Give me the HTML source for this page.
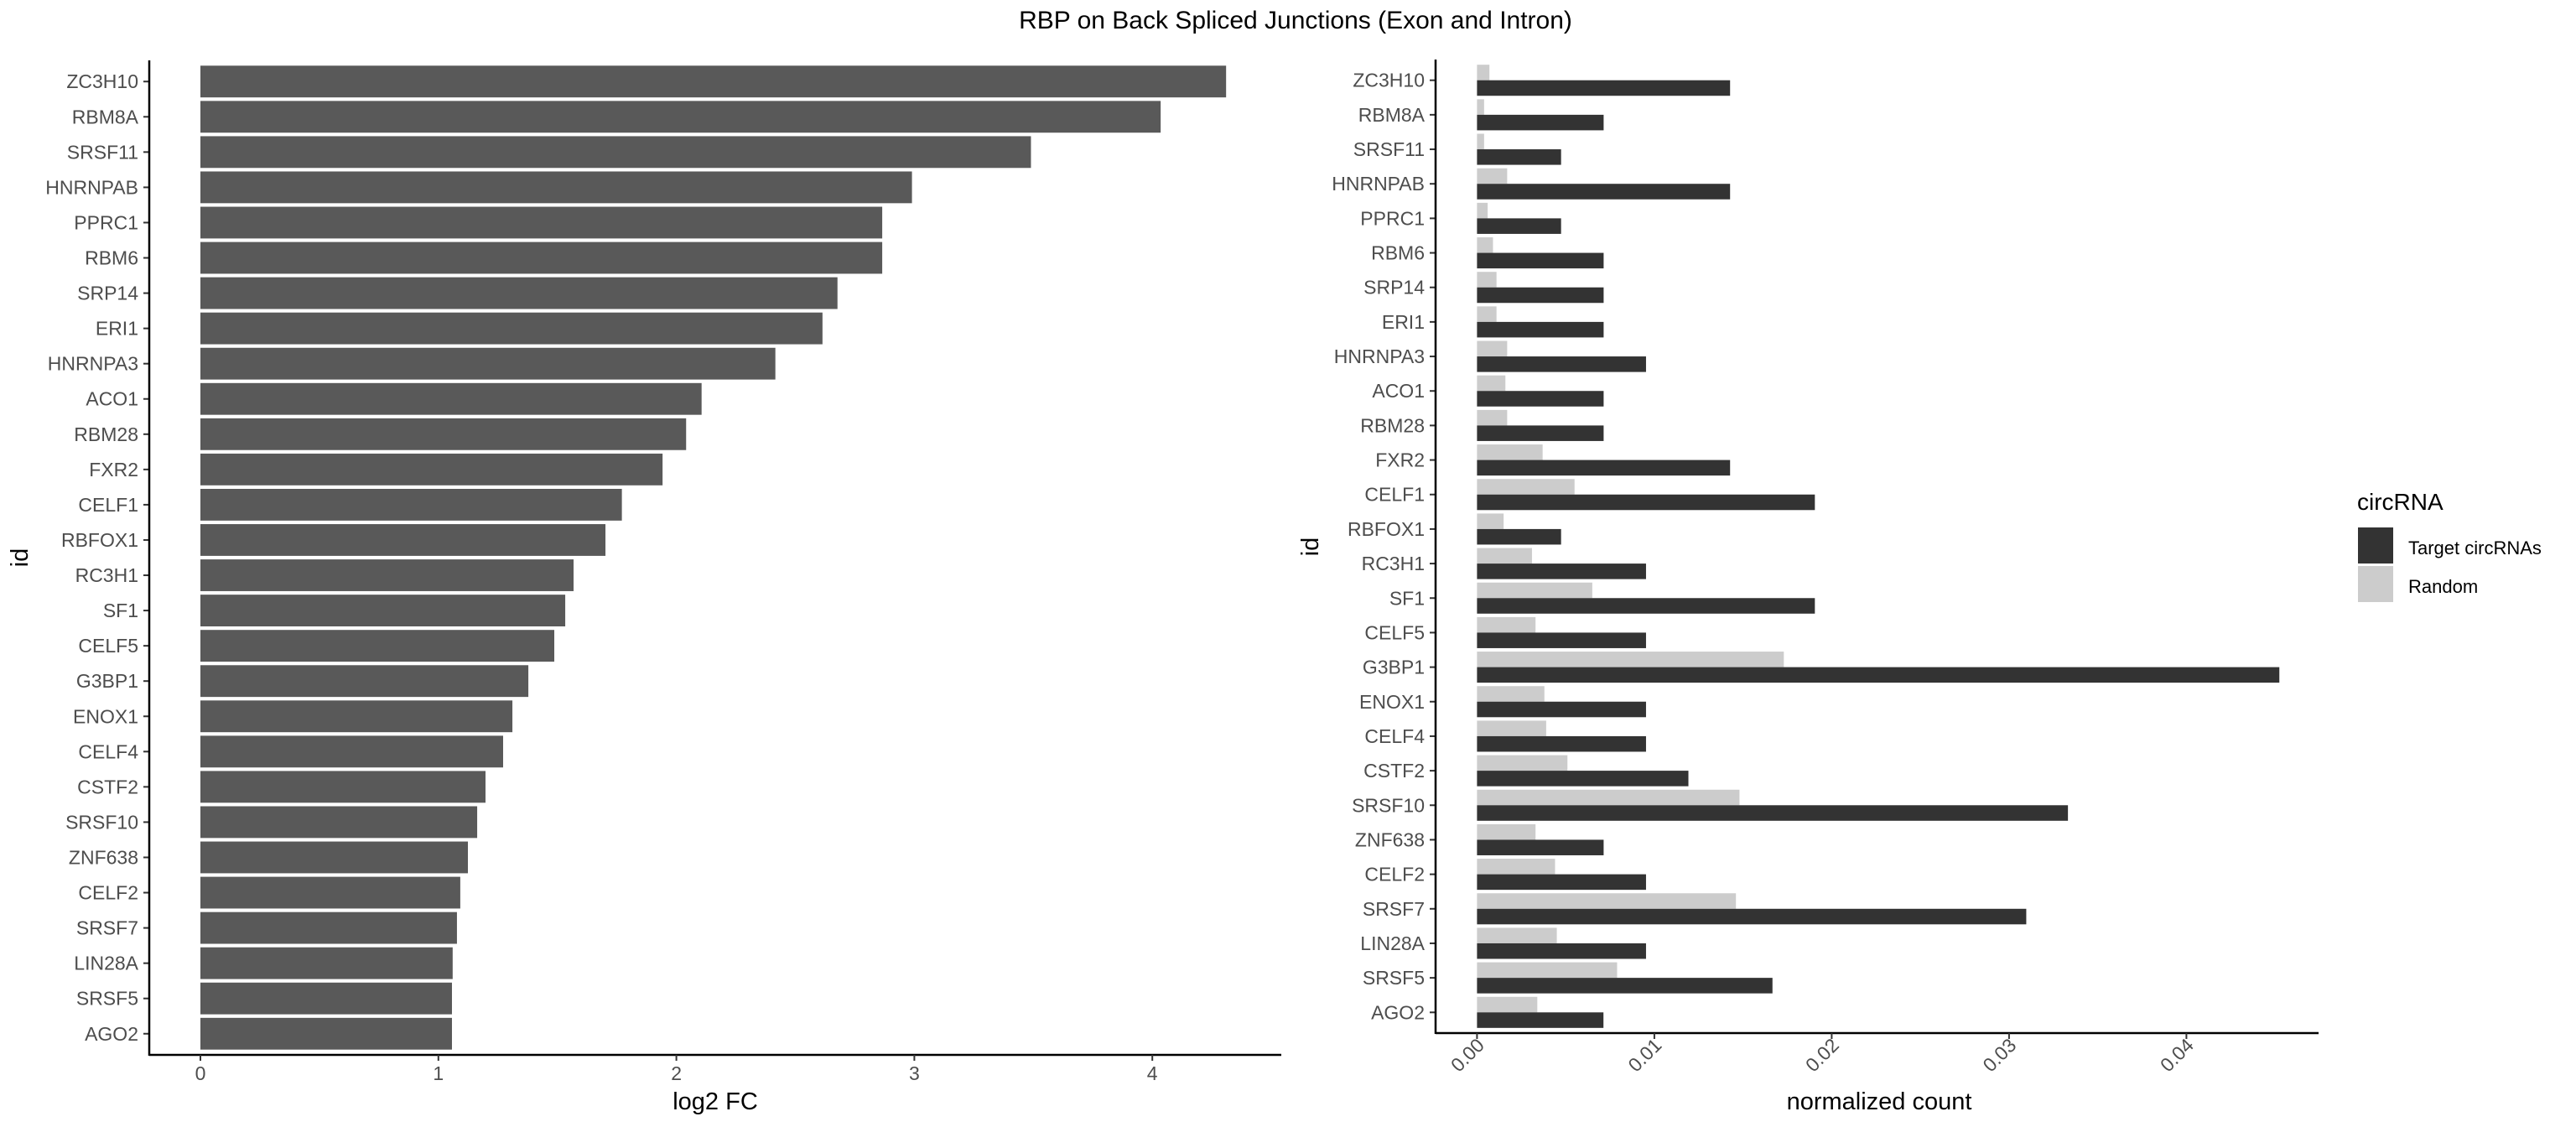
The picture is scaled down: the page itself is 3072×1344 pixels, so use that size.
<!DOCTYPE html>
<html><head><meta charset="utf-8"><style>
html,body{margin:0;padding:0;background:#fff;}
svg{display:block;font-family:"Liberation Sans",sans-serif;}
</style></head><body>
<svg id="chart" width="3072" height="1344" viewBox="0 0 3072 1344">
<text x="1545" y="34" font-size="30" text-anchor="middle" fill="#000">RBP on Back Spliced Junctions (Exon and Intron)</text>
<g id="left"></g>
<g id="right"></g>
<g>
<text x="2811" y="608" font-size="28" fill="#000">circRNA</text>
<rect x="2812" y="629" width="42" height="43" fill="#333333"/>
<text x="2872" y="661" font-size="22" fill="#000">Target circRNAs</text>
<rect x="2812" y="675" width="42" height="43" fill="#cccccc"/>
<text x="2872" y="707" font-size="22" fill="#000">Random</text>
</g>
</svg>
<script>
const categories = ["ZC3H10","RBM8A","SRSF11","HNRNPAB","PPRC1","RBM6","SRP14","ERI1","HNRNPA3","ACO1","RBM28","FXR2","CELF1","RBFOX1","RC3H1","SF1","CELF5","G3BP1","ENOX1","CELF4","CSTF2","SRSF10","ZNF638","CELF2","SRSF7","LIN28A","SRSF5","AGO2"];
const log2fc = [4.31,4.035,3.49,2.99,2.865,2.865,2.677,2.614,2.416,2.106,2.041,1.942,1.771,1.702,1.568,1.533,1.487,1.378,1.311,1.272,1.198,1.163,1.124,1.092,1.078,1.06,1.057,1.057];
const targetCounts = [0.01427,0.00714,0.00474,0.01427,0.00474,0.00714,0.00714,0.00714,0.00953,0.00714,0.00714,0.01427,0.01905,0.00474,0.00953,0.01905,0.00953,0.04524,0.00953,0.00953,0.01192,0.03332,0.00714,0.00953,0.03097,0.00953,0.01666,0.00713];
const randomCounts = [0.0007,0.0004,0.0004,0.0017,0.0006,0.0009,0.0011,0.0011,0.0017,0.0016,0.0017,0.0037,0.0055,0.0015,0.0031,0.0065,0.0033,0.0173,0.0038,0.0039,0.0051,0.0148,0.0033,0.0044,0.0146,0.0045,0.0079,0.0034];
const leftTicks = [0,1,2,3,4];
const rightTicks = ["0.00","0.01","0.02","0.03","0.04"];

const NS="http://www.w3.org/2000/svg";
function mk(parent,tag,attrs,text){const e=document.createElementNS(NS,tag);for(const k in attrs)e.setAttribute(k,attrs[k]);if(text!==undefined)e.textContent=text;parent.appendChild(e);return e;}

// LEFT PANEL
const L=document.getElementById('left');
const lx0=239, lUnit=283.8, lTop=72, lBot=1258, lAxisX=178, lRight=1528;
const lPitch=(lBot-lTop)/(categories.length+0.2);
const lx=v=>lx0+v*lUnit;
const ly=i=>lTop+lPitch*(i+0.6);
categories.forEach((c,i)=>{
  const bh=lPitch*0.9;
  const r=mk(L,'rect',{x:lx(0),y:ly(i)-bh/2,width:lx(log2fc[i])-lx(0),height:bh,fill:'#595959'});
  
  
  const t=mk(L,'text',{x:165,y:ly(i)+8,'font-size':23,'text-anchor':'end',fill:'#4d4d4d'},c);
  
  
  mk(L,'line',{x1:171,x2:lAxisX,y1:ly(i),y2:ly(i),stroke:'#333','stroke-width':2});
});
mk(L,'line',{x1:lAxisX,x2:lAxisX,y1:lTop,y2:lBot+1,stroke:'#000','stroke-width':2.5});
mk(L,'line',{x1:lAxisX,x2:lRight,y1:lBot,y2:lBot,stroke:'#000','stroke-width':2.5});
leftTicks.forEach(v=>{
  mk(L,'line',{x1:lx(v),x2:lx(v),y1:lBot,y2:lBot+7,stroke:'#333','stroke-width':2});
  const t=mk(L,'text',{x:lx(v),y:lBot+30,'font-size':23,'text-anchor':'middle',fill:'#4d4d4d'},String(v));
  
  
});
let tt=mk(L,'text',{x:(lAxisX+lRight)/2,y:1323,'font-size':29,'text-anchor':'middle',fill:'#000'},'log2 FC');


tt=mk(L,'text',{x:0,y:0,'font-size':29,'text-anchor':'middle',fill:'#000',transform:'translate(33,665) rotate(-90)'},'id');



// RIGHT PANEL
const R=document.getElementById('right');
const rx0=1761.4, rUnit=21150, rTop=71, rBot=1232, rAxisX=1712, rRight=2765;
const rPitch=(rBot-rTop)/(categories.length+0.2);
const rx=v=>rx0+v*rUnit;
const ry=i=>rTop+rPitch*(i+0.6);
categories.forEach((c,i)=>{
  const bh=rPitch*0.45;
  const a=mk(R,'rect',{x:rx(0),y:ry(i)-bh,width:rx(randomCounts[i])-rx(0),height:bh,fill:'#cccccc'});
  
  
  const b=mk(R,'rect',{x:rx(0),y:ry(i),width:rx(targetCounts[i])-rx(0),height:bh,fill:'#333333'});
  
  
  const t=mk(R,'text',{x:1699,y:ry(i)+8,'font-size':23,'text-anchor':'end',fill:'#4d4d4d'},c);
  
  
  mk(R,'line',{x1:1705,x2:rAxisX,y1:ry(i),y2:ry(i),stroke:'#333','stroke-width':2});
});
mk(R,'line',{x1:rAxisX,x2:rAxisX,y1:rTop,y2:rBot+1,stroke:'#000','stroke-width':2.5});
mk(R,'line',{x1:rAxisX,x2:rRight,y1:rBot,y2:rBot,stroke:'#000','stroke-width':2.5});
rightTicks.forEach(s=>{
  const v=parseFloat(s);
  mk(R,'line',{x1:rx(v),x2:rx(v),y1:rBot,y2:rBot+7,stroke:'#333','stroke-width':2});
  const t=mk(R,'text',{x:0,y:0,'font-size':23,'text-anchor':'end',fill:'#4d4d4d',transform:'translate('+(rx(v)+10)+','+(rBot+16)+') rotate(-45)'},s);
  
  
});
tt=mk(R,'text',{x:2241,y:1323,'font-size':29,'text-anchor':'middle',fill:'#000'},'normalized count');


tt=mk(R,'text',{x:0,y:0,'font-size':29,'text-anchor':'middle',fill:'#000',transform:'translate(1572,652) rotate(-90)'},'id');


</script>
</body></html>
